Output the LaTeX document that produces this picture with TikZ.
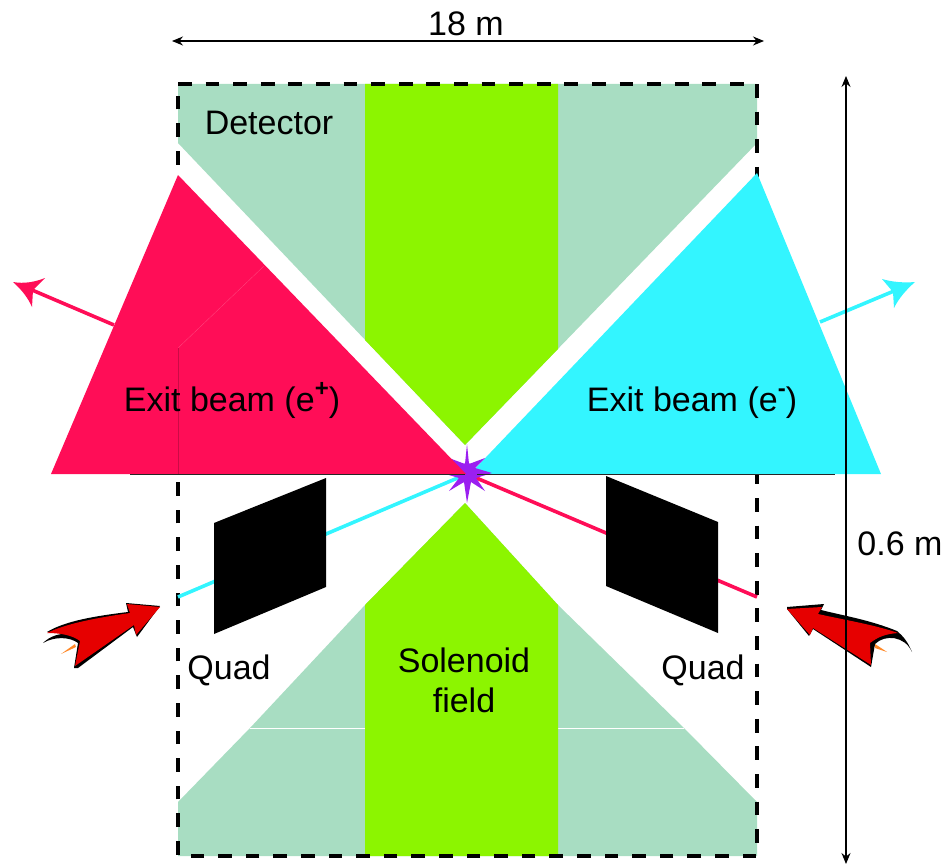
\documentclass[tikz,border=0pt]{standalone}
\usepackage{fontspec}
\setmainfont{Liberation Sans}
\usetikzlibrary{arrows.meta}
\definecolor{pale}{HTML}{A8DDC2}
\definecolor{lime}{HTML}{8CF500}
\definecolor{rosered}{HTML}{FF0D57}
\definecolor{aqua}{HTML}{33F5FF}
\definecolor{star}{HTML}{9B1FF0}
\definecolor{bigred}{HTML}{E60000}
\definecolor{sliver}{HTML}{FF8A2A}
\newcommand{\supmark}[1]{\raisebox{0.42em}{\fontsize{24}{24}\selectfont\bfseries #1}}
\tikzset{
  x=1pt,y=-1pt,
  label text/.style={font=\fontsize{34}{40}\selectfont,inner sep=0pt,align=center},
  dim line/.style={draw=black,line width=1.1pt,{Stealth[length=11pt,width=9pt]}-{Stealth[length=11pt,width=9pt]}},
  frame line/.style={draw=black,line width=3.6pt,dash pattern=on 13.7pt off 13.9pt},
  beam line/.style={line width=3.6pt},
  seam/.style={line width=0.3pt},
}
\begin{document}
\begin{tikzpicture}
\useasboundingbox (0,0) rectangle (945,864);
% coordinates
\coordinate (dimL) at (172,41); \coordinate (dimR) at (764,41);
\coordinate (dimT) at (846,76); \coordinate (dimB) at (846,864);
\coordinate (ip) at (467,474);
\coordinate (inL) at (178,597); \coordinate (inR) at (757,597);
\coordinate (exL) at (114,325); \coordinate (exLend) at (32,290);
\coordinate (exR) at (820,322); \coordinate (exRend) at (894,291);
\coordinate (ruleL) at (130,474); \coordinate (ruleR) at (835,474);
\coordinate (ruleLin) at (465,474); \coordinate (ruleRin) at (477,474);
% detector
\fill[pale] (178,84) -- (757,84) -- (757,143) -- (465,445) -- (178,143) -- cycle;
\fill[pale] (365,605) -- (250,728) -- (178,802) -- (178,856) -- (757,856) -- (757,802) -- (684,728) -- (558,605) -- (465,503) -- cycle;
\draw[white,line width=1pt] (250,728) -- (365,728) (558,728) -- (684,728);
% solenoid
\fill[lime] (365,84) -- (558,84) -- (558,349) -- (465,445) -- (365,340) -- cycle;
\fill[lime] (465,503) -- (558,605) -- (558,856) -- (365,856) -- (365,605) -- cycle;
% frame
\draw[frame line] (178,84) -- (757,84);
\draw[frame line] (757,84) -- (757,856) -- (178,856) -- (178,84);
% beams
\draw[beam line,aqua] (inL) -- (ip);
\draw[beam line,rosered] (inR) -- (ip);
% exit beam cones and star
\fill[aqua] (757,173) -- (881,474) -- (470,474) -- cycle;
\fill[star] (467,444) -- (469,464) -- (485,458) -- (475,468) -- (492,473) -- (476,478) -- (485,491) -- (471,482) -- (467,503) -- (464,482) -- (449,491) -- (459,478) -- (442,473) -- (459,468) -- (449,458) -- (465,464) -- cycle;
\fill[star] (467,473) circle (10);
\fill[rosered] (178,175) -- (51,474) -- (466,474) -- cycle;
\draw[seam,draw=rosered!75!white] (264,266) -- (178,348);
\draw[seam,draw=rosered!80!black] (178,348) -- (178,474);
\draw[black!85,line width=0.9pt] (ruleL) -- (ruleLin) (ruleRin) -- (ruleR);
% exit arrows
\draw[beam line,rosered] (exL) -- (exLend);
\fill[rosered] (13,282) .. controls (24,284) and (35,282) .. (45,278) -- (33,290) -- (32,307) .. controls (28,298) and (22,290) .. (13,282) -- cycle;
\draw[beam line,aqua] (exR) -- (exRend);
\fill[aqua] (915,282) .. controls (904,283) and (892,282) .. (882,279) -- (893,292) -- (894,308) .. controls (899,298) and (906,290) .. (915,282) -- cycle;
% quads
\fill[black] (214,523) -- (326,478) -- (326,587) -- (214,634) -- cycle;
\fill[black] (606,476) -- (718,522) -- (718,633) -- (606,586) -- cycle;
% big red arrows
\fill[black] (43,643) .. controls (50,636) and (60,633) .. (68,634) -- (76,633) -- (47,632) .. controls (65,621) and (95,616) .. (128,612) -- (126,603) -- (160,606) -- (137,637) -- (133,627) -- (78,668) -- (74,668) -- (78,643) .. controls (70,637) and (55,636) .. (43,643) -- cycle;
\fill[sliver] (61,654) -- (75,644) -- (76,647) -- cycle;
\fill[bigred] (160,607) -- (127,604) -- (130,613) .. controls (95,618) and (65,624) .. (47,633) .. controls (60,633) and (72,635) .. (80,641) -- (75,666) -- (134,625) -- (136,635) -- cycle;
\fill[black] (912,652) .. controls (908,642) and (903,636) .. (897,631) .. controls (870,620) and (845,616) .. (821,610) -- (824,604) -- (787,607) -- (787,609) -- (809,636) -- (813,629) -- (871,667) -- (875,644) .. controls (885,634) and (905,636) .. (912,652) -- cycle;
\fill[sliver] (875,644) -- (887,652) -- (875,648) -- cycle;
\fill[bigred] (787,609) -- (822,607) -- (818,614) .. controls (850,621) and (875,625) .. (898,633) .. controls (885,634) and (878,637) .. (870,643) -- (871,665) -- (813,628) -- (810,635) -- cycle;
% labels
\node[label text] (len) at (466,24) {18 m};
\node[label text] (wid) at (900,544) {0.6 m};
\node[label text] (det) at (269,123) {Detector};
\node[label text] (sol) at (464,680) {Solenoid\\[0pt]field};
\node[label text] (qL) at (229,670) {Quad};
\node[label text] (qR) at (703,670) {Quad};
\node[label text,anchor=base] (eL) at (232,411) {Exit beam (e\supmark{+})};
\node[label text,anchor=base] (eR) at (692,411) {Exit beam (e\supmark{-})};
% dimensions
\draw[dim line] (dimL) -- (dimR);
\draw[dim line] (dimT) -- (dimB);
\end{tikzpicture}
\end{document}
